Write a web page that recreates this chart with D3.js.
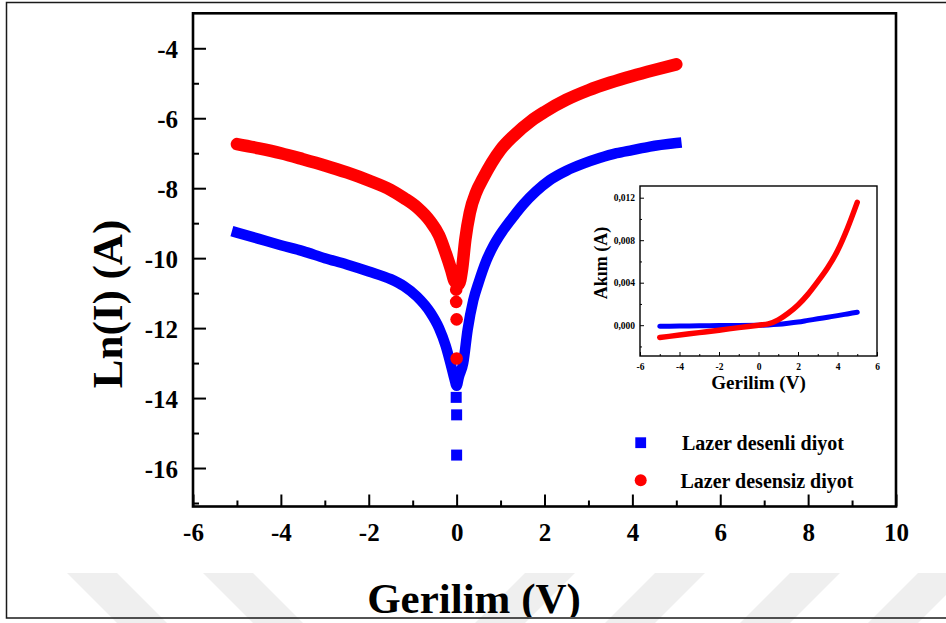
<!DOCTYPE html>
<html>
<head>
<meta charset="utf-8">
<script src="https://cdn.jsdelivr.net/npm/d3@7"></script>
<style>
  body { margin: 0; background: #fff; }
  svg { display: block; }
  text { font-family: "Liberation Serif", "Times New Roman", serif; font-weight: bold; fill: #000; }
</style>
</head>
<body>
<svg id="chart" width="946" height="623"></svg>
<script>
// ---- Main plot: ln|I| versus voltage ----
const blueV  = [-5, -4.5, -4, -3.5, -3, -2.5, -2, -1.5, -1.2, -0.9, -0.6, -0.4, -0.25, -0.12, -0.05, 0, 0.05, 0.15, 0.25, 0.38, 0.5, 0.68, 0.85, 1.06, 1.3, 1.52, 1.8, 2.12, 2.5, 2.88, 3.25, 3.64, 4.0, 4.4, 5];
const blueLn = [-9.27, -9.45, -9.63, -9.8, -10.0, -10.18, -10.38, -10.6, -10.8, -11.1, -11.55, -12.0, -12.5, -13.1, -13.45, -13.65, -13.4, -13.0, -12.05, -11.2, -10.7, -10.06, -9.62, -9.2, -8.8, -8.46, -8.1, -7.77, -7.5, -7.3, -7.14, -7.0, -6.91, -6.81, -6.71];
// isolated low-current points near 0 V
const blueDotV  = [-0.01, 0, 0];
const blueDotLn = [-13.98, -14.48, -15.63];

const redV  = [-5, -4.5, -4, -3.5, -3, -2.5, -2, -1.5, -1.2, -0.9, -0.6, -0.4, -0.25, -0.12, -0.05, 0.05, 0.12, 0.2, 0.3, 0.45, 0.6, 0.8, 1.0, 1.3, 1.7, 2.0, 2.5, 3.0, 3.5, 4.0, 4.5, 5.0];
const redLn = [-6.74, -6.86, -7.0, -7.17, -7.35, -7.55, -7.78, -8.05, -8.28, -8.55, -8.95, -9.35, -9.85, -10.35, -10.65, -10.75, -10.35, -9.45, -8.7, -8.1, -7.72, -7.27, -6.9, -6.5, -6.07, -5.82, -5.47, -5.2, -4.98, -4.79, -4.62, -4.46];
const redDotV  = [-0.01, -0.01, 0, 0];
const redDotLn = [-10.9, -11.25, -11.75, -12.87];

const mainXTicks = [-6, -4, -2, 0, 2, 4, 6, 8, 10];
const mainXMinor = [-5, -3, -1, 1, 3, 5, 7, 9];
const mainYTicks = [-4, -6, -8, -10, -12, -14, -16];
const mainYMinor = [-5, -7, -9, -11, -13, -15, -17];

// ---- Inset: linear current versus voltage ----
const insetV    = [-5, -4, -3, -2, -1, 0, 0.5, 1, 1.5, 2, 2.5, 3, 3.5, 4, 4.5, 5];
const insetRed  = [-0.00116, -0.00093, -0.0007, -0.00047, -0.00023, 0, 0.00012, 0.0005, 0.00112, 0.0019, 0.0029, 0.0041, 0.0054, 0.007, 0.0091, 0.01156];
const insetBlue = [-0.0001, -0.00008, -0.00006, -0.00004, -0.00002, 0, 0.00002, 0.00008, 0.00018, 0.0003, 0.00045, 0.0006, 0.00075, 0.0009, 0.00106, 0.00122];
const insetXTicks = [-6, -4, -2, 0, 2, 4, 6];
const insetXMinor = [-5, -3, -1, 1, 3, 5];
const insetYTicks = [0, 0.004, 0.008, 0.012];
const insetYLabels = ["0,000", "0,004", "0,008", "0,012"];
const insetYMinor = [-0.002, 0.002, 0.006, 0.010];

const seriesNames = ["Lazer desenli diyot", "Lazer desensiz diyot"];
const BLUE = "#0000ff", RED = "#ff0000";
const fmtInt = d => String(d);   // plain hyphen for negatives

const svg = d3.select("#chart");
svg.append("rect").attr("width", 946).attr("height", 623).attr("fill", "#fff");

// faint diagonal stripe pattern along the bottom of the page
const stripeBack = [67, 203];          // "\" stripes
const stripeFwd = [525, 655, 790, 918]; // "/" stripes
const wm = svg.append("g").attr("fill", "#efefef");
stripeBack.forEach(x0 => wm.append("polygon")
  .attr("points", `${x0},573 ${x0 + 50},573 ${x0 + 105},628 ${x0 + 55},628`));
stripeFwd.forEach(x0 => wm.append("polygon")
  .attr("points", `${x0},573 ${x0 + 50},573 ${x0 - 5},628 ${x0 - 55},628`));

// ---------- main plot ----------
const M = { left: 193, right: 896, top: 13.3, bottom: 506.5 };
const x = d3.scaleLinear().domain([-6, 10]).range([M.left, M.right]);
const y = d3.scaleLinear().domain([-17.1, -3]).range([M.bottom, M.top]);

function styleAxis(g, w) {
  g.select(".domain").remove();
  g.selectAll(".tick line").attr("stroke", "#000").attr("stroke-width", w);
}

// x axis ticks (inward)
svg.append("g").attr("transform", `translate(0,${M.bottom})`)
  .call(d3.axisBottom(x).tickValues(mainXTicks).tickSize(-12).tickPadding(17).tickFormat(fmtInt))
  .call(g => styleAxis(g, 2))
  .call(g => g.selectAll("text").attr("font-size", 25).attr("font-family", null));
svg.append("g").attr("transform", `translate(0,${M.bottom})`)
  .call(d3.axisBottom(x).tickValues(mainXMinor).tickSize(-6).tickFormat(""))
  .call(g => styleAxis(g, 2));

// y axis ticks (inward)
svg.append("g").attr("transform", `translate(${M.left},0)`)
  .call(d3.axisLeft(y).tickValues(mainYTicks).tickSize(-13).tickPadding(15).tickFormat(fmtInt))
  .call(g => styleAxis(g, 2))
  .call(g => g.selectAll("text").attr("font-size", 25).attr("font-family", null).attr("dy", "0.36em"));
svg.append("g").attr("transform", `translate(${M.left},0)`)
  .call(d3.axisLeft(y).tickValues(mainYMinor).tickSize(-6).tickFormat(""))
  .call(g => styleAxis(g, 2));

svg.append("rect")
  .attr("x", M.left).attr("y", M.top)
  .attr("width", M.right - M.left).attr("height", M.bottom - M.top)
  .attr("fill", "none").attr("stroke", "#000").attr("stroke-width", 2.6);

// series traces: dense scans drawn as thick strokes, sparse points as markers
const line = d3.line().x(d => x(d[0])).y(d => y(d[1])).curve(d3.curveMonotoneX);
const blueData = blueV.map((v, i) => [v, blueLn[i]]);
const redData = redV.map((v, i) => [v, redLn[i]]);
const blueDots = blueDotV.map((v, i) => [v, blueDotLn[i]]);
const redDots = redDotV.map((v, i) => [v, redDotLn[i]]);

const SQ = 11;
svg.append("path").datum(blueData).attr("d", line)
  .attr("fill", "none").attr("stroke", BLUE).attr("stroke-width", 10.5)
  .attr("stroke-linejoin", "round").attr("stroke-linecap", "square");
svg.append("g").selectAll("rect").data(blueDots).join("rect")
  .attr("x", d => x(d[0]) - SQ / 2).attr("y", d => y(d[1]) - SQ / 2)
  .attr("width", SQ).attr("height", SQ).attr("fill", BLUE);

svg.append("path").datum(redData).attr("d", line)
  .attr("fill", "none").attr("stroke", RED).attr("stroke-width", 12.5)
  .attr("stroke-linejoin", "round").attr("stroke-linecap", "round");
svg.append("g").selectAll("circle").data(redDots).join("circle")
  .attr("cx", d => x(d[0])).attr("cy", d => y(d[1])).attr("r", 6.3).attr("fill", RED);

// axis titles
svg.append("text")
  .attr("transform", `translate(122,304) rotate(-90)`)
  .attr("text-anchor", "middle").attr("font-size", 43).text("Ln(I) (A)");

svg.append("clipPath").attr("id", "pageClip")
  .append("rect").attr("x", 0).attr("y", 0).attr("width", 946).attr("height", 617);
svg.append("text").attr("clip-path", "url(#pageClip)")
  .attr("x", 474).attr("y", 613).attr("text-anchor", "middle").attr("font-size", 43).text("Gerilim (V)");

// legend
const lg = svg.append("g");
lg.append("rect").attr("x", 640.7 - 5.4).attr("y", 442.7 - 5.4).attr("width", 10.8).attr("height", 10.8).attr("fill", BLUE);
lg.append("text").attr("x", 682).attr("y", 450).attr("font-size", 20).text(seriesNames[0]);
lg.append("circle").attr("cx", 640.7).attr("cy", 480.3).attr("r", 6).attr("fill", RED);
lg.append("text").attr("x", 680.5).attr("y", 488).attr("font-size", 20).text(seriesNames[1]);

// ---------- inset ----------
const I = { left: 640, right: 877, top: 186, bottom: 356 };
const xi = d3.scaleLinear().domain([-6, 6]).range([I.left, I.right]);
const yi = d3.scaleLinear().domain([-0.0029, 0.0131]).range([I.bottom, I.top]);

svg.append("rect").attr("x", I.left).attr("y", I.top)
  .attr("width", I.right - I.left).attr("height", I.bottom - I.top)
  .attr("fill", "#fff").attr("stroke", "#000").attr("stroke-width", 1.4);

svg.append("g").attr("transform", `translate(0,${I.bottom})`)
  .call(d3.axisBottom(xi).tickValues(insetXTicks).tickSize(-4).tickPadding(7).tickFormat(fmtInt))
  .call(g => styleAxis(g, 1))
  .call(g => g.selectAll("text").attr("font-size", 9.5).attr("font-family", null));
svg.append("g").attr("transform", `translate(0,${I.bottom})`)
  .call(d3.axisBottom(xi).tickValues(insetXMinor).tickSize(-2).tickFormat(""))
  .call(g => styleAxis(g, 1));
svg.append("g").attr("transform", `translate(${I.left},0)`)
  .call(d3.axisLeft(yi).tickValues(insetYTicks).tickSize(-4).tickPadding(5)
    .tickFormat((d, i) => insetYLabels[i]))
  .call(g => styleAxis(g, 1))
  .call(g => g.selectAll("text").attr("font-size", 9.5).attr("font-family", null));
svg.append("g").attr("transform", `translate(${I.left},0)`)
  .call(d3.axisLeft(yi).tickValues(insetYMinor).tickSize(-2).tickFormat(""))
  .call(g => styleAxis(g, 1));

const lineI = d3.line().x(d => xi(d[0])).y(d => yi(d[1])).curve(d3.curveMonotoneX);
svg.append("path").datum(insetV.map((v, i) => [v, insetBlue[i]])).attr("d", lineI)
  .attr("fill", "none").attr("stroke", BLUE).attr("stroke-width", 5).attr("stroke-linecap", "round");
svg.append("path").datum(insetV.map((v, i) => [v, insetRed[i]])).attr("d", lineI)
  .attr("fill", "none").attr("stroke", RED).attr("stroke-width", 5.5).attr("stroke-linecap", "round");

svg.append("text").attr("x", (I.left + I.right) / 2).attr("y", 389)
  .attr("text-anchor", "middle").attr("font-size", 19).text("Gerilim (V)");
svg.append("text").attr("transform", `translate(607,263) rotate(-90)`)
  .attr("text-anchor", "middle").attr("font-size", 18).text("Akım (A)");

// page border
svg.append("rect").attr("x", 6.5).attr("y", 2.5).attr("width", 1000).attr("height", 615.5)
  .attr("fill", "none").attr("stroke", "#1a1a1a").attr("stroke-width", 1.5);
</script>
</body>
</html>
